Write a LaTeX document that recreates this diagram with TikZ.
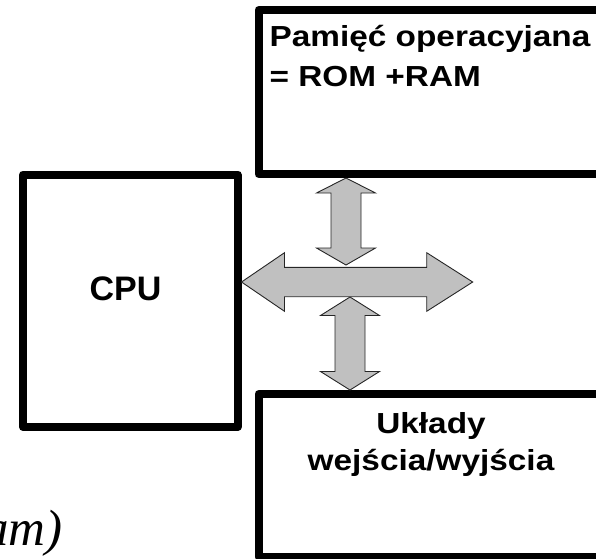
\documentclass[tikz,border=0pt]{standalone}
\usepackage{fontspec}
\setmainfont{Liberation Serif}
\newfontfamily\boxfont[FakeStretch=1.15]{Liberation Sans}
\newfontfamily\cpufont{Liberation Sans}
\usetikzlibrary{calc}
\definecolor{busgray}{RGB}{192,192,192}

\tikzset{
  box/.style={draw,line width=8pt,line join=round,inner sep=0pt},
  bus/.style={draw=black!85,fill=busgray,line width=0.9pt},
  boxtxt/.style={font=\boxfont\bfseries\fontsize{29}{38}\selectfont,inner sep=0pt},
}

% double block arrows: tip, tip, head lengths
\newcommand{\hbus}[4]{%
  \draw[bus] (#1) -- ($(#1)+(#3,-29.3)$) -- ($(#1)+(#3,-14.7)$) -- ($(#2)+(-#4,-14.7)$)
    -- ($(#2)+(-#4,-29.3)$) -- (#2) -- ($(#2)+(-#4,29.3)$) -- ($(#2)+(-#4,14.7)$)
    -- ($(#1)+(#3,14.7)$) -- ($(#1)+(#3,29.3)$) -- cycle;}
\newcommand{\vbus}[4]{%
  \draw[bus] (#1) -- ($(#1)+(29.5,#3)$) -- ($(#1)+(15,#3)$) -- ($(#2)+(15,-#4)$)
    -- ($(#2)+(29.5,-#4)$) -- (#2) -- ($(#2)+(-29.5,-#4)$) -- ($(#2)+(-15,-#4)$)
    -- ($(#1)+(-15,#3)$) -- ($(#1)+(-29.5,#3)$) -- cycle;}

\begin{document}
\begin{tikzpicture}[x=1pt,y=-1pt]
    \useasboundingbox (0,0) rectangle (596,558);

    % Boxes
    \node[box,minimum width=214.5pt,minimum height=252.5pt] (cpu) at (130.25,300.75) {};
    \node[box,minimum width=347.5pt,minimum height=164pt] (mem) at (432.25,92) {};
    \node[box,minimum width=345pt,minimum height=163pt] (io) at (431,475.5) {};

    % Labels
    \node[font=\cpufont\bfseries\fontsize{34}{40}\selectfont,inner sep=0pt] (cputxt) at (125.5,289) {CPU};
    \node[boxtxt,font=\boxfont\bfseries\fontsize{29}{39.5}\selectfont,align=left,anchor=base west] (memtxt) at (269.5,86) {Pamięć operacyjana\\= ROM +RAM};
    \node[boxtxt,font=\boxfont\bfseries\fontsize{29}{37}\selectfont,align=center,anchor=base] (iotxt) at (431,470) {Układy\\wejścia/wyjścia};
    \node[font=\itshape\fontsize{51}{58}\selectfont,anchor=base east,inner sep=0pt] (progtxt) at (63,545) {am)};

    % Bus
    \coordinate (busC) at (346,282);
    \coordinate (busL) at (cpu.east |- busC);
    \coordinate (busR) at (472.7,282);
    \coordinate (upT) at (mem.south -| busC);
    \coordinate (upB) at (346,265);
    \coordinate (dnT) at (350,297);
    \coordinate (dnB) at (io.north -| dnT);
    \vbus{upT}{upB}{15}{17}
    \vbus{dnT}{dnB}{18.5}{18.5}
    \hbus{busL}{busR}{43}{46}
\end{tikzpicture}
\end{document}
